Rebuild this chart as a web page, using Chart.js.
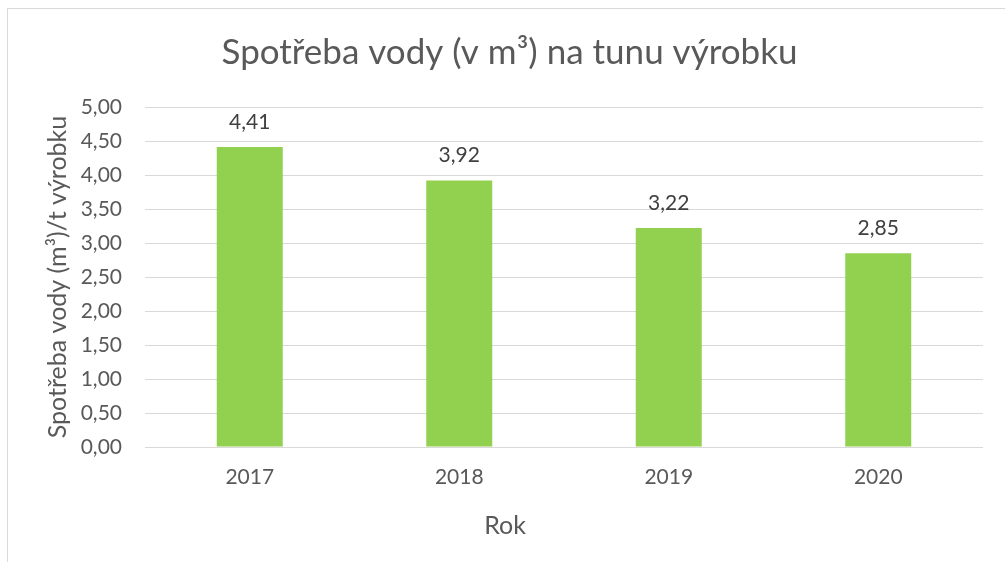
<!DOCTYPE html>
<html>
<head>
<meta charset="utf-8">
<script src="https://cdn.jsdelivr.net/npm/chart.js@4"></script>
<style>
  html, body { margin: 0; padding: 0; background: #fff; }
  #wrap { position: relative; width: 1005px; height: 562px; }
</style>
</head>
<body>
<div id="wrap"><canvas id="chart" width="1005" height="562"></canvas></div>
<script>
// chart data
const years = ['2017', '2018', '2019', '2020'];
const waterPerTon = [4.41, 3.92, 3.22, 2.85];
const yTicks = [0, 0.5, 1, 1.5, 2, 2.5, 3, 3.5, 4, 4.5, 5];
const xTitle = 'Rok';

const FONT = 'Lato, "Open Sans", sans-serif';
const fmt = v => v.toFixed(2).replace('.', ',');

// value labels above bars, the x title (centred on the whole chart like the original) and the outer frame
const extras = {
  id: 'extras',
  beforeDraw(chart) {
    const ctx = chart.ctx;
    ctx.save();
    ctx.strokeStyle = '#d9d9d9';
    ctx.lineWidth = 1;
    ctx.strokeRect(7.5, 8.5, 1010, 570);
    ctx.restore();
  },
  afterDatasetsDraw(chart) {
    const ctx = chart.ctx;
    const meta = chart.getDatasetMeta(0);
    ctx.save();
    ctx.font = '21px ' + FONT;
    ctx.fillStyle = '#404040';
    ctx.textAlign = 'center';
    ctx.textBaseline = 'middle';
    meta.data.forEach((bar, i) => {
      ctx.fillText(fmt(waterPerTon[i]), bar.x, bar.y - 25);
    });
    ctx.font = '25px ' + FONT;
    ctx.fillStyle = '#595959';
    ctx.fillText(xTitle, 505, chart.chartArea.bottom + 79);
    ctx.restore();
  }
};

new Chart(document.getElementById('chart'), {
  type: 'bar',
  data: {
    labels: years,
    datasets: [{
      data: waterPerTon,
      backgroundColor: '#92d050',
      categoryPercentage: 1,
      barPercentage: 0.315
    }]
  },
  options: {
    responsive: false,
    animation: false,
    layout: { padding: { left: 36, right: 22, top: 0, bottom: 0 } },
    plugins: {
      legend: { display: false },
      tooltip: { enabled: false },
      title: {
        display: true,
        text: 'Spotřeba vody (v m³) na tunu výrobku',
        color: '#595959',
        font: { family: FONT, size: 35, weight: 'normal' },
        padding: { top: 32, bottom: 33 }
      }
    },
    scales: {
      x: {
        grid: { display: false },
        border: { display: false },
        ticks: { color: '#595959', font: { family: FONT, size: 21 }, padding: 10 },
        afterFit(scale) { scale.height = 115; }
      },
      y: {
        min: 0,
        max: 5,
        afterBuildTicks(scale) { scale.ticks = yTicks.map(v => ({ value: v })); },
        grid: { color: '#d9d9d9', drawTicks: false },
        border: { display: false },
        ticks: {
          color: '#595959',
          font: { family: FONT, size: 21 },
          padding: 23,
          callback: v => fmt(v)
        },
        title: {
          display: true,
          text: 'Spotřeba vody (m³)/t výrobku',
          color: '#595959',
          font: { family: FONT, size: 25 },
          padding: { top: 7, bottom: 0 }
        },
        afterFit(scale) { scale.width = 109; }
      }
    }
  },
  plugins: [extras]
});
</script>
</body>
</html>
